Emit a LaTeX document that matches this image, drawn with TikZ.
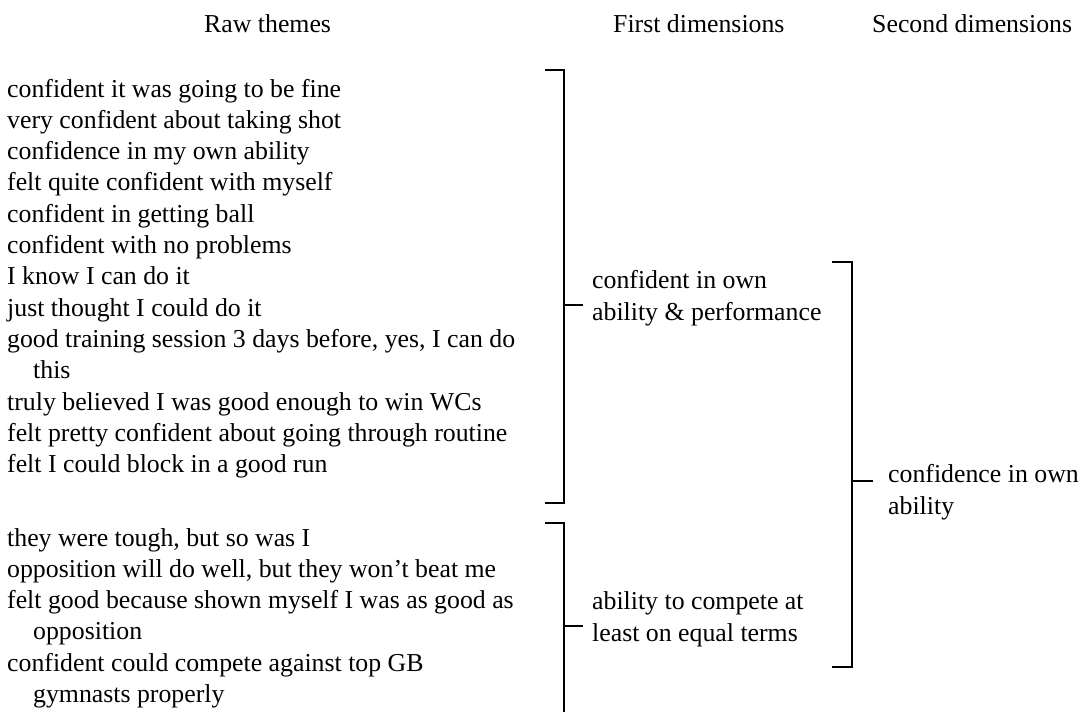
\documentclass[tikz,border=0pt]{standalone}
\usepackage{fontspec}
\setmainfont{Liberation Serif}
\begin{document}
\begin{tikzpicture}[x=1pt,y=-1pt,
  txt/.style={anchor=base west, inner sep=0pt, align=left, font=\fontsize{25.8}{31.3}\selectfont},
  brk/.style={line width=1.6pt, line cap=butt, line join=miter}]
\useasboundingbox (0,0) rectangle (1088,712);
% headers
\node[txt] (h1) at (204,32) {Raw themes};
\node[txt] (h2) at (613,32) {First dimensions};
\node[txt] (h3) at (872,32) {Second dimensions};
% raw themes, group 1 (multi-line nodes are placed by the baseline of their last line)
\node[txt] (r1)  at (7,97.0)  {confident it was going to be fine};
\node[txt] (r2)  at (7,128.3) {very confident about taking shot};
\node[txt] (r3)  at (7,159.6) {confidence in my own ability};
\node[txt] (r4)  at (7,190.9) {felt quite confident with myself};
\node[txt] (r5)  at (7,222.2) {confident in getting ball};
\node[txt] (r6)  at (7,253.5) {confident with no problems};
\node[txt] (r7)  at (7,284.8) {I know I can do it};
\node[txt] (r8)  at (7,316.1) {just thought I could do it};
\node[txt] (r9)  at (7,378.7) {good training session 3 days before, yes, I can do\\\hspace*{26pt}this};
\node[txt] (r10) at (7,410.0) {truly believed I was good enough to win WCs};
\node[txt] (r11) at (7,441.3) {felt pretty confident about going through routine};
\node[txt] (r12) at (7,472.6) {felt I could block in a good run};
% raw themes, group 2
\node[txt] (q1) at (7,546.0) {they were tough, but so was I};
\node[txt] (q2) at (7,577.3) {opposition will do well, but they won't beat me};
\node[txt] (q3) at (7,639.9) {felt good because shown myself I was as good as\\\hspace*{26pt}opposition};
\node[txt] (q4) at (7,702.5) {confident could compete against top GB\\\hspace*{26pt}gymnasts properly};
% first dimensions
\node[txt] (d1) at (592,320) {confident in own\\ability \& performance};
\node[txt] (d2) at (592,641) {ability to compete at\\least on equal terms};
% second dimension
\node[txt] (s1) at (888,514) {confidence in own\\ability};
% bracket coordinates
\coordinate (a1) at (545,70);  \coordinate (a2) at (564,70);
\coordinate (a3) at (564,503); \coordinate (a4) at (545,503);
\coordinate (am) at (564,305); \coordinate (at) at (583,305);
\coordinate (b1) at (545,523); \coordinate (b2) at (564,523);
\coordinate (b3) at (564,712);
\coordinate (bm) at (564,626); \coordinate (bt) at (583,626);
\coordinate (c1) at (832,262); \coordinate (c2) at (852,262);
\coordinate (c3) at (852,667); \coordinate (c4) at (832,667);
\coordinate (cm) at (852,481); \coordinate (ct) at (873,481);
% brackets
\draw[brk] (a1) -- (a2) -- (a3) -- (a4);
\draw[brk] (am) -- (at);
\draw[brk] (b1) -- (b2) -- (b3);
\draw[brk] (bm) -- (bt);
\draw[brk] (c1) -- (c2) -- (c3) -- (c4);
\draw[brk] (cm) -- (ct);
\end{tikzpicture}
\end{document}
